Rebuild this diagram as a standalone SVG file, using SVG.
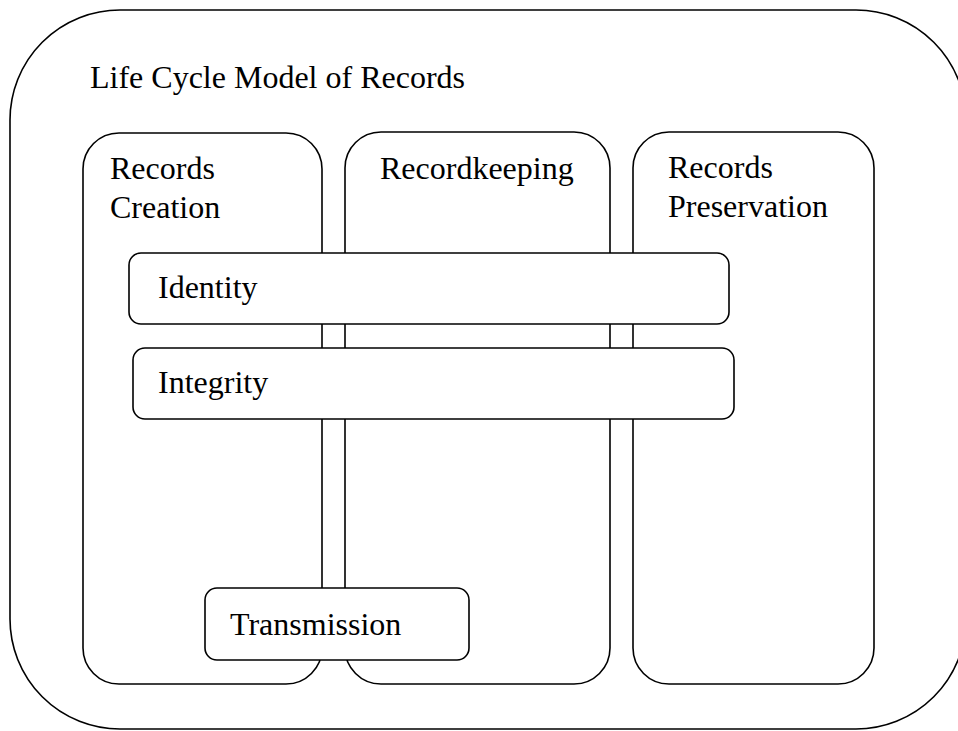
<svg xmlns="http://www.w3.org/2000/svg" width="958" height="731" viewBox="0 0 958 731">
<style>
.box{fill:#ffffff;stroke:#000000;stroke-width:1.6}
.t{font-family:"Liberation Serif","Times New Roman",serif;font-size:32px;fill:#000000}
</style>
<rect x="0" y="0" width="958" height="731" fill="#ffffff"/>
<g id="lifecycle">
<rect class="box" x="10" y="10" width="956" height="719" rx="110" ry="110"/>
<text class="t" x="90" y="88">Life Cycle Model of Records</text>
</g>
<g id="creation">
<rect class="box" x="83" y="133" width="239" height="551" rx="36" ry="36"/>
<text class="t" x="110" y="179">Records</text>
<text class="t" x="110" y="218">Creation</text>
</g>
<g id="recordkeeping">
<rect class="box" x="345" y="132" width="265" height="552" rx="36" ry="36"/>
<text class="t" x="380" y="179">Recordkeeping</text>
</g>
<g id="preservation">
<rect class="box" x="633" y="132" width="241" height="552" rx="36" ry="36"/>
<text class="t" x="668" y="178">Records</text>
<text class="t" x="668" y="217">Preservation</text>
</g>
<g id="identity">
<rect class="box" x="129" y="253" width="600" height="71" rx="12" ry="12"/>
<text class="t" x="158" y="298">Identity</text>
</g>
<g id="integrity">
<rect class="box" x="133" y="348" width="601" height="71" rx="12" ry="12"/>
<text class="t" x="158" y="393">Integrity</text>
</g>
<g id="transmission">
<rect class="box" x="205" y="588" width="264" height="72" rx="12" ry="12"/>
<text class="t" x="230" y="635">Transmission</text>
</g>
<g id="connectors"></g>
</svg>
